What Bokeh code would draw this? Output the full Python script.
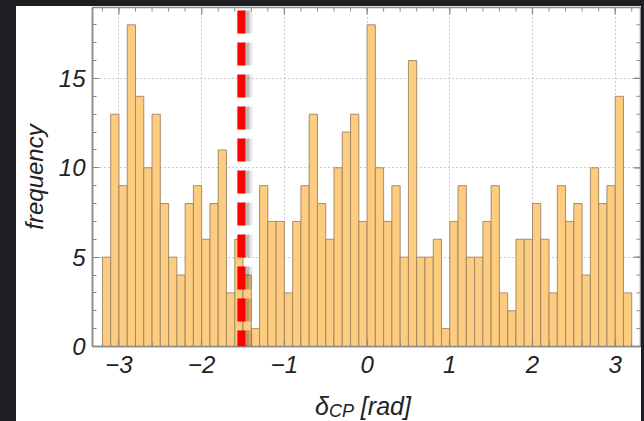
import numpy as np
from bokeh.plotting import figure
from bokeh.layouts import column
from bokeh.models import Range1d, FixedTicker, Span, Div, GlobalInlineStyleSheet
from bokeh.embed import file_html
from bokeh.resources import INLINE

# ---------------- data ----------------
bin_start = -3.2
bin_width = 0.1
counts = [5, 13, 9, 18, 14, 10, 13, 8, 5, 4,
          8, 9, 6, 8, 11, 3, 6, 4, 1, 9,
          7, 7, 3, 7, 9, 13, 8, 6, 10, 12,
          13, 7, 18, 10, 7, 9, 5, 16, 5, 5,
          6, 1, 7, 9, 5, 5, 7, 9, 3, 2,
          6, 6, 8, 6, 3, 9, 7, 8, 4, 10,
          8, 9, 14, 3]
x_ticks = [-3, -2, -1, 0, 1, 2, 3]
x_tick_labels = ["\u22123", "\u22122", "\u22121", "0", "1", "2", "3"]
x_minor_ticks = [-3.2, -3.0, -2.8, -2.6, -2.4, -2.2, -2.0, -1.8, -1.6, -1.4, -1.2, -1.0,
                 -0.8, -0.6, -0.4, -0.2, 0.0, 0.2, 0.4, 0.6, 0.8, 1.0, 1.2, 1.4, 1.6,
                 1.8, 2.0, 2.2, 2.4, 2.6, 2.8, 3.0, 3.2]
y_ticks = [0, 5, 10, 15]
y_tick_labels = ["0", "5", "10", "15"]
y_minor_ticks = list(range(0, 19))
marker_value = -1.52
x_range = (-3.32, 3.306)
y_range = (0, 18.97)
y_label = "frequency"
x_label_main, x_label_sub, x_label_unit = "\u03b4", "CP", "[rad]"

edges = bin_start + bin_width * np.arange(len(counts) + 1)
left = edges[:-1]
right = edges[1:]

FONT = "Liberation Sans"
TXT = "#222222"
FRAME = "#8a8a8a"

FRAME_W, FRAME_H = 548, 339
px_x = (x_range[1] - x_range[0]) / FRAME_W   # data units per pixel
px_y = (y_range[1] - y_range[0]) / FRAME_H

p = figure(width=625, height=382, output_backend="svg", toolbar_location=None,
           x_range=Range1d(*x_range), y_range=Range1d(*y_range),
           min_border_left=76, min_border_right=1, min_border_top=1, min_border_bottom=42,
           background_fill_color="white", border_fill_color="white")

p.outline_line_color = FRAME
p.outline_line_width = 1.5

# grid
p.xgrid.ticker = FixedTicker(ticks=x_ticks)
p.ygrid.ticker = FixedTicker(ticks=y_ticks[1:])
for g in (p.xgrid, p.ygrid):
    g.grid_line_color = "#9c9c9c"
    g.grid_line_dash = "1 3"
    g.grid_line_width = 1

# bars
p.quad(left=left, right=right, bottom=0, top=counts,
       fill_color="#fdcc7e", line_color="#9c8464", line_width=1, line_alpha=0.9)

# top and right frame ticks (inward), derived from the tick lists
MAJ, MIN = 7, 4
xt_major = np.array(x_ticks, dtype=float)
xt_minor = np.array([t for t in x_minor_ticks if x_range[0] < t < x_range[1]])
yt_major = np.array([t for t in y_ticks if t > 0], dtype=float)
yt_minor = np.array(y_minor_ticks[1:], dtype=float)
ytop = y_range[1]
xr = x_range[1]
p.segment(x0=xt_minor, x1=xt_minor, y0=ytop, y1=ytop - MIN * px_y, line_color=FRAME, line_width=1)
p.segment(x0=xt_major, x1=xt_major, y0=ytop, y1=ytop - MAJ * px_y, line_color=FRAME, line_width=1.2)
p.segment(x0=xr, x1=xr - MIN * px_x, y0=yt_minor, y1=yt_minor, line_color=FRAME, line_width=1)
p.segment(x0=xr, x1=xr - MAJ * px_x, y0=yt_major, y1=yt_major, line_color=FRAME, line_width=1.2)

# marker line with soft shadow
for dx, a, w in [(6, 0.10, 10), (4, 0.18, 8)]:
    p.add_layout(Span(location=marker_value + dx * px_x, dimension="height",
                      line_color="black", line_alpha=a, line_width=w,
                      line_dash="23 9", line_dash_offset=29))
p.add_layout(Span(location=marker_value, dimension="height", line_color="#ff0000",
                  line_width=8, line_dash="23 9", line_dash_offset=29))


def style_axis(ax, ticks, minor, labels):
    ax.ticker = FixedTicker(ticks=ticks, minor_ticks=minor)
    ax.axis_line_color = FRAME
    ax.axis_line_width = 1.5
    ax.major_tick_line_color = FRAME
    ax.minor_tick_line_color = FRAME
    ax.major_tick_line_width = 1.2
    ax.minor_tick_line_width = 1
    ax.major_tick_in = MAJ
    ax.major_tick_out = 0
    ax.minor_tick_in = MIN
    ax.minor_tick_out = 0
    ax.major_label_overrides = {t: l for t, l in zip(ticks, labels)}
    ax.major_label_text_font = FONT
    ax.major_label_text_font_style = "italic"
    ax.major_label_text_font_size = "24px"
    ax.major_label_text_color = TXT


style_axis(p.xaxis[0], x_ticks, x_minor_ticks, x_tick_labels)
style_axis(p.yaxis[0], y_ticks, y_minor_ticks, y_tick_labels)
p.xaxis[0].major_label_standoff = 9
p.yaxis[0].major_label_standoff = 7

p.yaxis[0].axis_label = y_label
p.yaxis[0].axis_label_text_font = FONT
p.yaxis[0].axis_label_text_font_style = "italic"
p.yaxis[0].axis_label_text_font_size = "24px"
p.yaxis[0].axis_label_text_color = TXT
p.yaxis[0].axis_label_standoff = 8

# x axis label as real HTML text with a subscript
xlabel = Div(
    width=625, height=33,
    text=(f'<div style="padding-left:299px;padding-top:6px;white-space:nowrap;'
          f'font-family:\'{FONT}\';font-style:italic;font-size:25px;line-height:25px;color:{TXT};">'
          f'{x_label_main}<span style="font-size:18px;line-height:18px;position:relative;top:2px;">'
          f'{x_label_sub}</span>&nbsp;{x_label_unit}</div>'),
    styles={"background-color": "white", "margin": "0", "padding": "0"},
)

p.stylesheets = [GlobalInlineStyleSheet(
    css="html, body { background: #1d1e22; overflow: hidden; } body { margin: 6px 0 0 16px; }")]

layout = column(p, xlabel, spacing=0, styles={"background-color": "white"})

open("out.html", "w").write(file_html(layout, INLINE))
